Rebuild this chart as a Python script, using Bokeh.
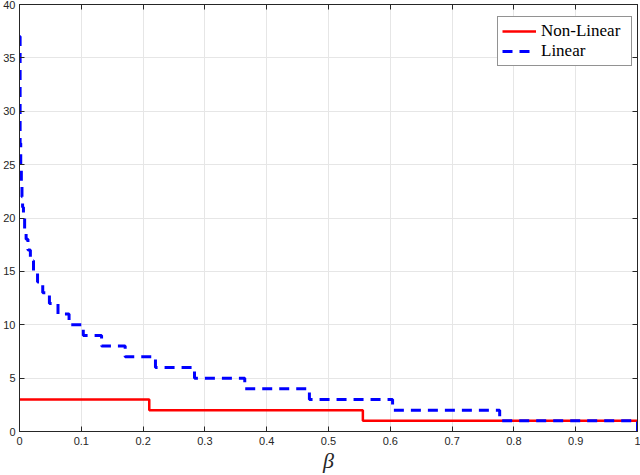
from bokeh.plotting import figure
from bokeh.models import (LinearAxis, FixedTicker, PrintfTickFormatter, Legend,
                          LegendItem, Range1d)
from bokeh.embed import file_html
from bokeh.resources import INLINE

# ---- data ----
beta_nonlinear = [0.0, 0.21, 0.5556, 1.0]
n_nonlinear = [3, 2, 1, 0]

beta_linear = [0.0, 0.001, 0.002, 0.003, 0.004, 0.005, 0.0064, 0.0083, 0.0107,
               0.0137, 0.0176, 0.0227, 0.0292, 0.0376, 0.0484, 0.0623, 0.0802,
               0.1032, 0.1328, 0.171, 0.22, 0.2832, 0.3645, 0.4691, 0.6037,
               0.777, 1.0]
n_linear = [37, 27, 25, 23, 22, 21, 20, 19, 18, 17, 16, 15, 14, 13, 12, 11, 10,
            9, 8, 7, 6, 5, 4, 3, 2, 1, 0]

x_ticks = [0, 0.1, 0.2, 0.3, 0.4, 0.5, 0.6, 0.7, 0.8, 0.9, 1]
y_ticks = [0, 5, 10, 15, 20, 25, 30, 35, 40]

AX = "#262626"
GRID = "#e6e6e6"

p = figure(width=640, height=475, x_range=Range1d(0, 1), y_range=Range1d(0, 40),
           output_backend="svg", toolbar_location=None,
           min_border_left=17, min_border_right=3, min_border_top=4,
           min_border_bottom=44, x_axis_label="β")
p.background_fill_color = "white"
p.border_fill_color = "white"
p.outline_line_color = AX
p.outline_line_width = 1

p.add_layout(LinearAxis(), "above")
p.add_layout(LinearAxis(), "right")

bottom = p.below[0]
left = p.left[0]
top = p.above[0]
right = p.right[0]

for ax in (bottom, top):
    ax.ticker = FixedTicker(ticks=x_ticks)
    ax.formatter = PrintfTickFormatter(format="%g")
for ax in (left, right):
    ax.ticker = FixedTicker(ticks=y_ticks)
    ax.formatter = PrintfTickFormatter(format="%g")

for ax in (bottom, left, top, right):
    ax.axis_line_color = AX
    ax.axis_line_width = 1
    ax.major_tick_line_color = AX
    ax.major_tick_in = 5
    ax.major_tick_out = 0
    ax.minor_tick_line_color = None
    ax.major_label_text_color = AX
    ax.major_label_text_font = "Liberation Sans"
    ax.major_label_text_font_size = "11px"

bottom.major_label_standoff = 5
left.major_label_standoff = 4
bottom.axis_label_text_font = "Liberation Serif"
bottom.axis_label_text_font_style = "italic"
bottom.axis_label_text_font_size = "22px"
bottom.axis_label_text_color = AX
bottom.axis_label_standoff = 0

# mirror axes: ticks only
top.major_label_overrides = {t: "" for t in x_ticks}
right.major_label_overrides = {t: "" for t in y_ticks}
top.major_label_standoff = 0
right.major_label_standoff = 0

p.xgrid.ticker = FixedTicker(ticks=x_ticks)
p.ygrid.ticker = FixedTicker(ticks=y_ticks)
p.grid.grid_line_color = GRID
p.grid.grid_line_width = 1

r_nl = p.step(beta_nonlinear, n_nonlinear, mode="after", line_color="#ff0000",
              line_width=2.5)
r_l = p.step(beta_linear, n_linear, mode="after", line_color="#0000ff",
             line_width=3, line_dash="10 7")

legend = Legend(items=[LegendItem(label="Non-Linear", renderers=[r_nl]),
                       LegendItem(label="Linear", renderers=[r_l])],
                location=(478, 365))
legend.label_text_font = "Liberation Serif"
legend.label_text_font_size = "17px"
legend.label_text_color = "black"
legend.border_line_color = AX
legend.border_line_width = 1
legend.background_fill_color = "white"
legend.background_fill_alpha = 1
legend.glyph_width = 34
legend.glyph_height = 18
legend.label_height = 18
legend.label_width = 86
legend.label_standoff = 5
legend.spacing = 0
legend.padding = 4
legend.margin = 0
p.add_layout(legend, "center")

open("out.html", "w").write(file_html(p, INLINE))
